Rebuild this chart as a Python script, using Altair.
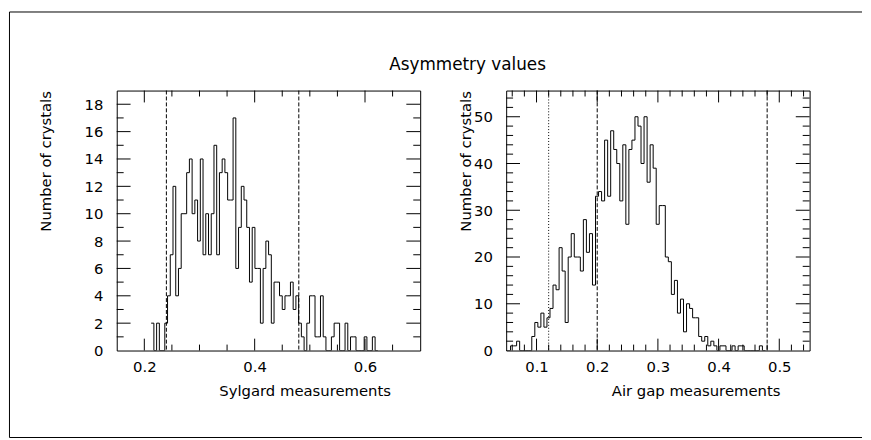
import altair as alt
import pandas as pd

# ---------------- data ----------------
# Sylgard histogram (counts per bin, bins of equal width starting at left_bin_start)
left_bin_start = 0.2124
left_bin_width = 0.00495
left_counts = [2, 0, 2, 0, 0, 2, 4, 7, 12, 4, 6, 10, 10, 13, 14, 10, 11, 8, 14, 7,
               10, 7, 10, 15, 7, 13, 14, 13, 11, 11, 17, 6, 9, 12, 11, 9, 5, 9, 6, 6,
               2, 6, 8, 7, 2, 5, 5, 4, 3, 4, 4, 5, 3, 4, 2, 1, 0, 2, 4, 4,
               1, 1, 4, 1, 0, 0, 1, 2, 2, 0, 0, 2, 0, 1, 1, 0, 0, 0, 1, 0,
               0, 1, 0]

# Air gap histogram
right_bin_start = 0.0472
right_bin_width = 0.005
right_counts = [0, 0, 1, 1, 2, 0, 0, 0, 0, 3, 6, 5, 8, 5, 7, 9, 14, 13, 22, 17,
                6, 20, 25, 20, 20, 17, 28, 21, 25, 14, 33, 34, 32, 45, 33, 47, 43, 40, 32, 44,
                27, 43, 45, 50, 48, 40, 50, 36, 44, 39, 27, 31, 31, 20, 19, 12, 15, 8, 11, 4,
                10, 9, 7, 7, 3, 2, 3, 1, 2, 1, 0, 1, 1, 0, 0, 1, 0, 1, 1, 0,
                0, 0, 0, 0, 1, 0]

left_dashed = [0.24, 0.48]
right_dotted = [0.12]
right_dashed = [0.2, 0.48]

left_x_labels = [0.2, 0.4, 0.6]
left_x_minor = [0.25, 0.3, 0.35, 0.45, 0.5, 0.55, 0.65]
left_y_labels = [0, 2, 4, 6, 8, 10, 12, 14, 16, 18]
left_y_minor = [1, 3, 5, 7, 9, 11, 13, 15, 17]

right_x_labels = [0.1, 0.2, 0.3, 0.4, 0.5]
right_x_minor = [0.06, 0.08, 0.12, 0.14, 0.16, 0.18, 0.22, 0.24, 0.26, 0.28,
                 0.32, 0.34, 0.36, 0.38, 0.42, 0.44, 0.46, 0.48, 0.52, 0.54]
right_y_labels = [0, 10, 20, 30, 40, 50]
right_y_minor = [2, 4, 6, 8, 12, 14, 16, 18, 22, 24, 26, 28, 32, 34, 36, 38,
                 42, 44, 46, 48, 52, 54]

title_text = "Asymmetry values"
left_xtitle = "Sylgard measurements"
right_xtitle = "Air gap measurements"
ytitle = "Number of crystals"

# ---------------- layout ----------------
FONT = "DejaVu Sans"
W, H = 307, 263
XMAJ, XMIN = 12, 6
YMAJ, YMIN = 14, 7
dummy = pd.DataFrame({"a": [0]})


def panel(counts, start, width, xdom, ydom, xlabels, xmajor, xminor,
          ylabels, ymajor, yminor, dashed, dotted, xtitle, ytitle_x, extra=None):
    xs = alt.Scale(domain=xdom, nice=False, zero=False)
    ys = alt.Scale(domain=ydom, nice=False, zero=False)
    xaxis = alt.Axis(
        values=xlabels, format=".1f", ticks=False, tickSize=0, domain=False,
        grid=False, labelPadding=9, labelFontSize=15, labelFont=FONT,
        labelColor="black", title=xtitle, titleX=W - 30, titleY=46,
        titleAlign="right", titleBaseline="alphabetic", titleFontSize=15,
        titleFont=FONT, titleFontWeight="normal", titleColor="black")
    yaxis = alt.Axis(
        values=ylabels, format="d", ticks=False, tickSize=0, domain=False,
        grid=False, labelPadding=14, labelFontSize=15, labelFont=FONT,
        labelColor="black", title=ytitle, titleX=ytitle_x, titleY=0,
        titleAlign="right", titleAngle=270, titleBaseline="middle",
        titleFontSize=15, titleFont=FONT, titleFontWeight="normal",
        titleColor="black")

    edges = [start + i * width for i in range(len(counts) + 1)]
    df = pd.DataFrame({"x": edges, "n": list(counts) + [0]})

    hist = alt.Chart(df).mark_line(
        interpolate="step-after", color="black", strokeWidth=1, clip=True
    ).encode(
        x=alt.X("x:Q", scale=xs, axis=xaxis),
        y=alt.Y("n:Q", scale=ys, axis=yaxis),
    )

    layers = [hist]

    def xt(vals, L):
        d = pd.DataFrame({"x": vals})
        b = alt.Chart(d).mark_rule(color="black", strokeWidth=1)
        xe = alt.X("x:Q", scale=xs, axis=xaxis)
        return [b.encode(x=xe, y=alt.value(H), y2=alt.value(H - L)),
                b.encode(x=xe, y=alt.value(0), y2=alt.value(L))]

    def yt(vals, L):
        d = pd.DataFrame({"n": vals})
        b = alt.Chart(d).mark_rule(color="black", strokeWidth=1)
        ye = alt.Y("n:Q", scale=ys, axis=yaxis)
        return [b.encode(y=ye, x=alt.value(0), x2=alt.value(L)),
                b.encode(y=ye, x=alt.value(W), x2=alt.value(W - L))]

    layers += xt(xmajor, XMAJ) + xt(xminor, XMIN) + yt(ymajor, YMAJ) + yt(yminor, YMIN)

    if dashed:
        layers.append(alt.Chart(pd.DataFrame({"x": dashed})).mark_rule(
            color="black", strokeWidth=1, strokeDash=[4, 2]).encode(
            x=alt.X("x:Q", scale=xs, axis=xaxis), y=alt.value(0), y2=alt.value(H)))
    if dotted:
        layers.append(alt.Chart(pd.DataFrame({"x": dotted})).mark_rule(
            color="black", strokeWidth=1, strokeDash=[1, 2]).encode(
            x=alt.X("x:Q", scale=xs, axis=xaxis), y=alt.value(0), y2=alt.value(H)))
    if extra:
        layers += extra
    return alt.layer(*layers).properties(width=W, height=H)


# outer frame and main title (drawn from the left panel's coordinate frame)
frame_rule = alt.Chart(dummy).mark_rule(color="black", strokeWidth=1)
extra = [
    frame_rule.encode(x=alt.value(-108.5), y=alt.value(-79.5), y2=alt.value(351)),
    frame_rule.encode(x=alt.value(-108.5), x2=alt.value(754), y=alt.value(-79.5)),
    frame_rule.encode(x=alt.value(-108.5), x2=alt.value(754), y=alt.value(351)),
    alt.Chart(dummy).mark_text(text=title_text, font=FONT, fontSize=17,
                               align="center", baseline="alphabetic",
                               color="black").encode(
        x=alt.value(355), y=alt.value(-21)),
]

left = panel(left_counts, left_bin_start, left_bin_width, [0.15, 0.7], [0, 19],
             left_x_labels, left_x_labels, left_x_minor,
             left_y_labels, left_y_labels[1:], left_y_minor,
             left_dashed, None, left_xtitle, -72, extra)
right = panel(right_counts, right_bin_start, right_bin_width, [0.05, 0.55], [0, 55.6],
              right_x_labels, right_x_labels, right_x_minor,
              right_y_labels, right_y_labels[1:], right_y_minor,
              right_dashed, right_dotted, right_xtitle, -41)

chart = alt.hconcat(left, right, spacing=87, bounds="flush").properties(
    padding=0, background="white"
).configure_view(stroke="black", strokeWidth=1)

chart.save("out.html", embed_options={"renderer": "svg", "actions": False})
